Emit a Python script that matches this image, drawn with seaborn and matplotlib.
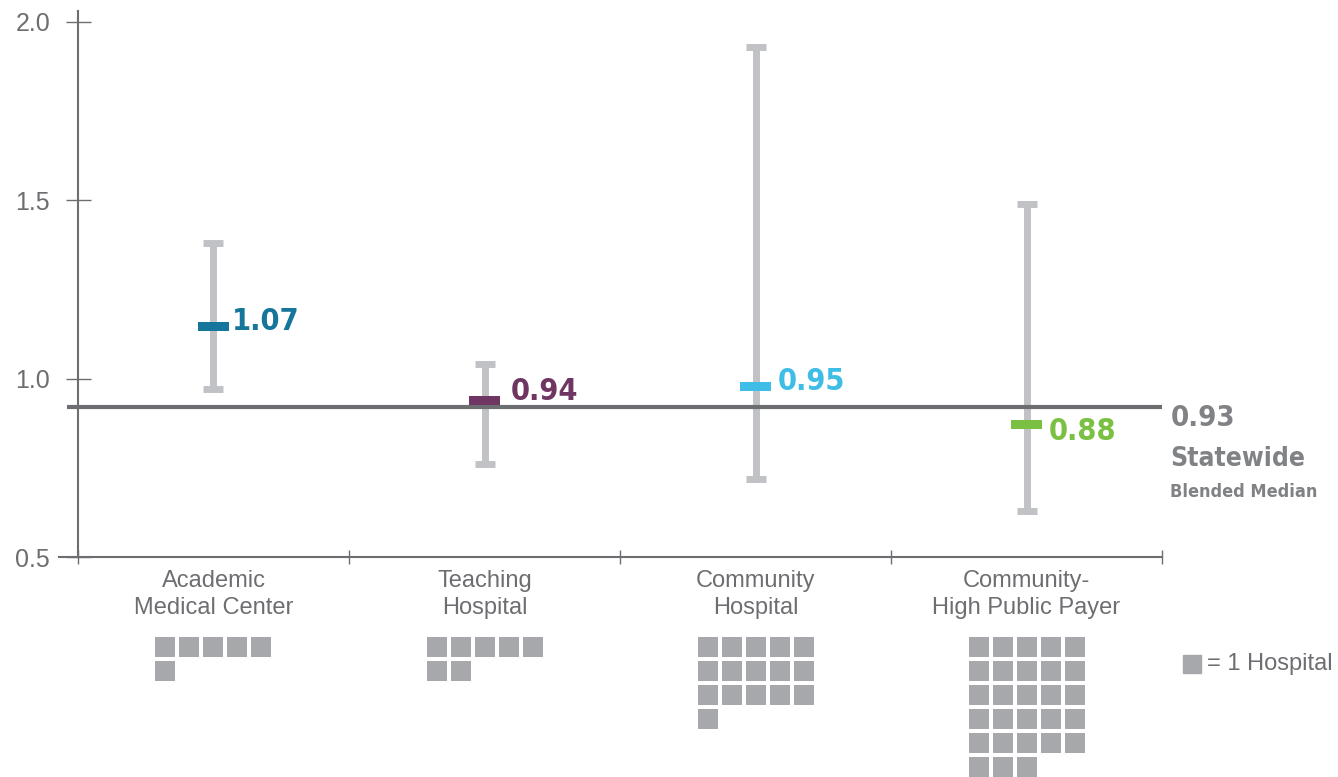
import numpy as np
import pandas as pd
import matplotlib.pyplot as plt
import seaborn as sns

# values
groups = ['Academic\nMedical Center', 'Teaching\nHospital',
          'Community\nHospital', 'Community-\nHigh Public Payer']
range_low = [0.97, 0.76, 0.72, 0.63]
range_high = [1.38, 1.04, 1.93, 1.49]
median_pos = [1.145, 0.94, 0.977, 0.87]
median_labels = ['1.07', '0.94', '0.95', '0.88']
hospital_counts = [6, 7, 16, 28]
statewide = 0.92
statewide_label = '0.93'
colors = ['#16759a', '#6f3563', '#3ebde6', '#7ac143']
y_ticks = [0.5, 1.0, 1.5, 2.0]
y_tick_labels = ['0.5', '1.0', '1.5', '2.0']

# label offsets (points) from each median mark
label_offsets = [(13, 4), (19, 6), (16, 4), (16, -5)]

sns.set_style('white')
plt.rcParams['font.family'] = ['Liberation Sans', 'DejaVu Sans']
GREY = '#6d6e71'
BOLD = dict(family='DejaVu Sans', fontstretch='condensed', fontweight='bold')

fig = plt.figure(figsize=(13.38, 7.77), dpi=100)
ax = fig.add_axes([0.0441, 0.2831, 0.8244, 0.7027])

pos = np.arange(len(groups))
df = pd.DataFrame({'pos': pos, 'median': median_pos, 'group': groups,
                   'low': range_low, 'high': range_high})

# range bars
ax.errorbar(df['pos'], df['median'],
            yerr=[df['median'] - df['low'], df['high'] - df['median']],
            fmt='none', ecolor='#c1c2c6', elinewidth=5, capsize=7, capthick=5,
            zorder=2)

# statewide median line
ax.hlines(statewide, -0.54, 3.5, color=GREY, lw=3, zorder=3)

# median marks
bar_marker = [(-1, -0.29), (1, -0.29), (1, 0.29), (-1, 0.29), (-1, -0.29)]
sns.scatterplot(data=df, x='pos', y='median', hue='group',
                palette=dict(zip(groups, colors)), marker=bar_marker, s=500,
                linewidth=0, legend=False, ax=ax, zorder=4)

for i, (lab, off) in enumerate(zip(median_labels, label_offsets)):
    ax.annotate(lab, (pos[i], median_pos[i]), xytext=off,
                textcoords='offset points', va='center', ha='left',
                fontsize=22, color=colors[i], **BOLD)

# statewide label
for txt, dy, size in [(statewide_label, -8, 21), ('Statewide', -37, 19),
                      ('Blended Median', -61, 13)]:
    ax.annotate(txt, (3.5, statewide), xytext=(6, dy), textcoords='offset points',
                va='center', ha='left', fontsize=size, color='#808285',
                annotation_clip=False, **BOLD)

ax.set_xlim(-0.57, 3.5)
ax.set_ylim(0.5, 2.03)
ax.spines['top'].set_visible(False)
ax.spines['right'].set_visible(False)
ax.spines['left'].set_position(('data', -0.5))
for s in ['left', 'bottom']:
    ax.spines[s].set_color(GREY)
    ax.spines[s].set_linewidth(1.5)

ax.set_yticks(y_ticks, labels=y_tick_labels)
ax.tick_params(axis='y', left=True, direction='inout', length=18, width=1,
               color=GREY, labelsize=18, labelcolor=GREY, pad=11)
ax.set_xticks([-0.5, 0.5, 1.5, 2.5, 3.5], labels=[''] * 5)
ax.tick_params(axis='x', which='major', bottom=True, direction='inout',
               length=10, width=1, color=GREY)
ax.set_xticks(pos, labels=groups, minor=True)
ax.tick_params(axis='x', which='minor', length=0, pad=9, labelsize=17,
               labelcolor=GREY)
for t in ax.get_xticklabels(minor=True):
    t.set_linespacing(1.3)
ax.set_xlabel('')
ax.set_ylabel('')

# hospital count waffles
step = 24 / 271
cells = []
for i, n in enumerate(hospital_counts):
    for k in range(n):
        cells.append({'x': i + (k % 5 - 2) * step, 'y': k // 5})
cells = pd.DataFrame(cells)

ax2 = fig.add_axes([0.0441, 0.0, 0.8244, 152 / 777])
sns.scatterplot(data=cells, x='x', y='y', marker='s', s=188, color='#a7a8ab',
                linewidth=0, ax=ax2, legend=False)
ax2.set_xlim(-0.57, 3.5)
ax2.set_ylim(-0.917 + 152 / 24, -0.917)
ax2.axis('off')

# key
fig.patches.append(plt.Rectangle((1183 / 1338, 1 - 673 / 777), 18 / 1338, 18 / 777,
                                 transform=fig.transFigure, color='#a7a8ab'))
fig.text(1207 / 1338, 1 - 664 / 777, '= 1 Hospital', fontsize=17, color=GREY,
         va='center', ha='left')

fig.savefig('out.png', dpi=100)
